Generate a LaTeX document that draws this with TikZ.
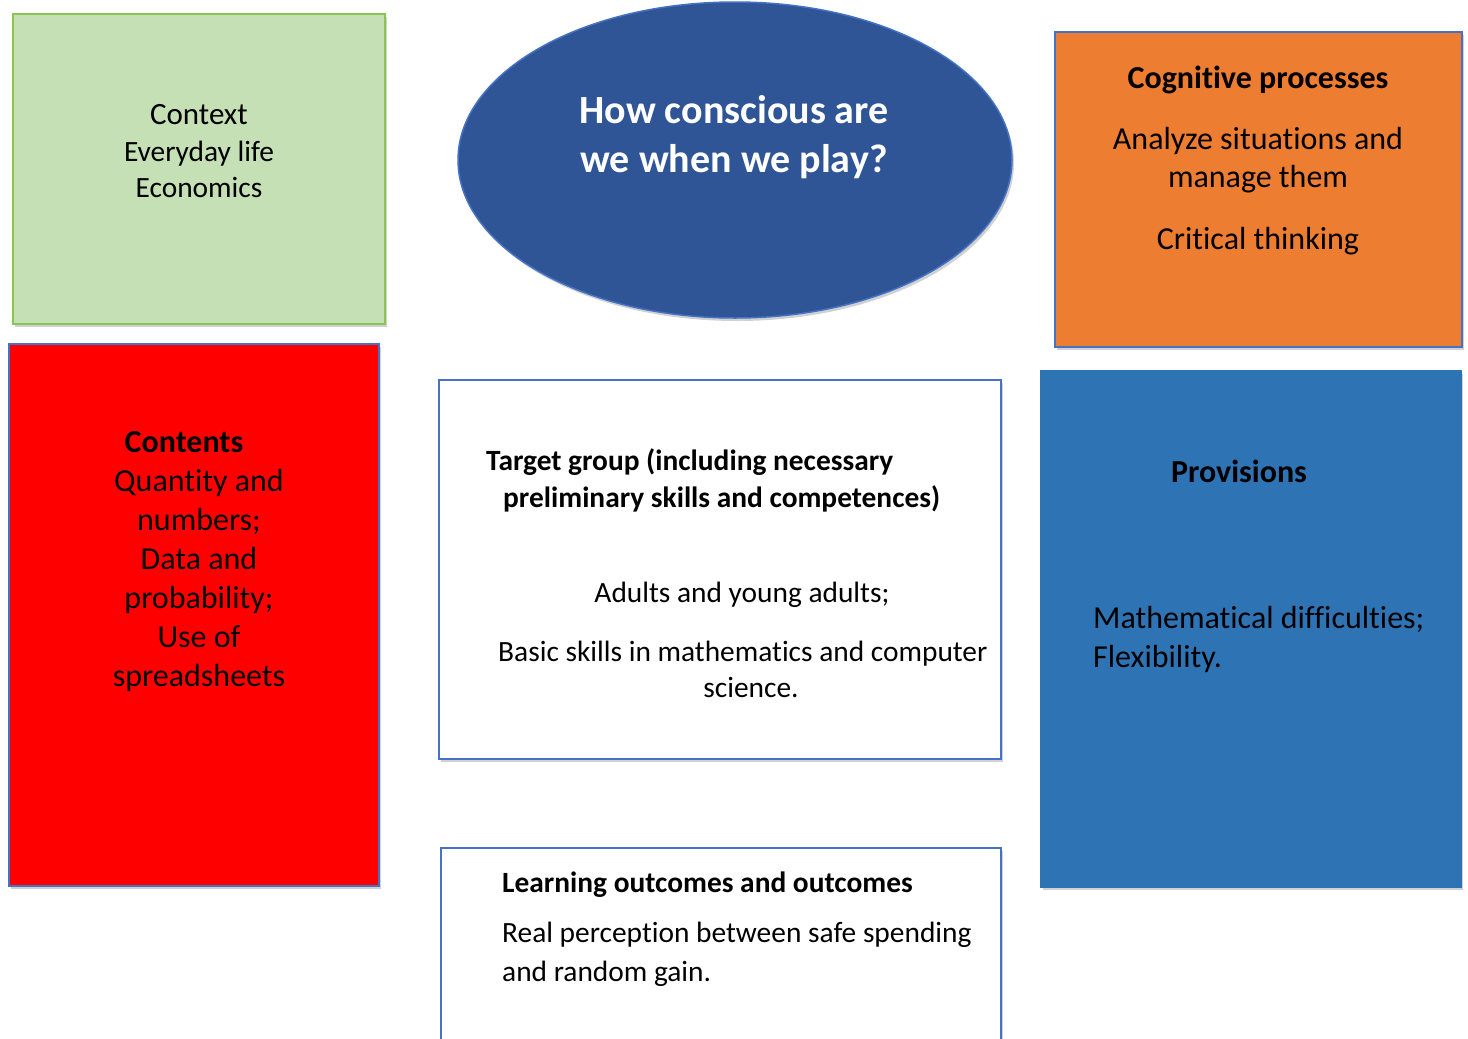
\documentclass[tikz,border=0pt]{standalone}
\usepackage{fontspec}
\setmainfont{Carlito}[Ligatures=NoCommon]
\usetikzlibrary{shapes.geometric,shadows}
\definecolor{ctxfill}{RGB}{197,224,180}
\definecolor{ctxline}{RGB}{140,196,82}
\definecolor{ellfill}{RGB}{47,85,151}
\definecolor{accline}{RGB}{68,114,196}
\definecolor{orangefill}{RGB}{237,125,49}
\definecolor{redfill}{RGB}{255,0,0}
\definecolor{provfill}{RGB}{46,116,181}
\begin{document}
\begin{tikzpicture}[x=1pt,y=-1pt,
  box/.style={draw=accline, line width=1.5pt, inner sep=0pt, outer sep=0pt, anchor=north west,
    drop shadow={shadow xshift=2pt, shadow yshift=-3pt, opacity=0.18, fill=black}},
  t29/.style={inner sep=0pt, font=\fontsize{29.4}{35}\selectfont},
  b29/.style={inner sep=0pt, font=\fontsize{29.4}{35}\selectfont\bfseries},
  t32/.style={inner sep=0pt, font=\fontsize{32}{38}\selectfont},
  b32/.style={inner sep=0pt, font=\fontsize{32}{38}\selectfont\bfseries},
]
\clip (0,0) rectangle (1468,1039);
\fill[white] (0,0) rectangle (1468,1039);

% boxes
\node[box, draw=ctxline, fill=ctxfill, minimum width=372pt, minimum height=310pt] (ctx) at (13,14) {};
\node[box, fill=orangefill, minimum width=407pt, minimum height=315pt] (cog) at (1055,32) {};
\node[box, fill=redfill, line width=1.2pt, minimum width=370pt, minimum height=542pt] (cont) at (9,344) {};
\node[box, fill=white, minimum width=562pt, minimum height=379pt] (target) at (439,380) {};
\node[box, draw=provfill, fill=provfill, minimum width=420pt, minimum height=516pt] (prov) at (1041,371) {};
\node[box, fill=white, minimum width=560pt, minimum height=260pt] (learn) at (441,848) {};
\node[ellipse, draw=accline, line width=1.5pt, fill=ellfill, inner sep=0pt,
  minimum width=554pt, minimum height=316pt,
  drop shadow={shadow xshift=2pt, shadow yshift=-3pt, opacity=0.18, fill=black}] (q) at (735,160) {};

% ellipse text
\node[inner sep=0pt, font=\fontsize{40}{48}\selectfont\bfseries, text=white, anchor=mid] (q1) at (734,121) {How conscious are};
\node[inner sep=0pt, font=\fontsize{40}{48}\selectfont\bfseries, text=white, anchor=mid] (q2) at (734,170) {we when we play?};

% context
\node[inner sep=0pt, font=\fontsize{31}{37}\selectfont, anchor=mid] (c1) at (199,122) {Context};
\node[t29, anchor=mid] (c2) at (199,159) {Everyday life};
\node[t29, anchor=mid] (c3) at (199,195) {Economics};

% cognitive
\node[b32, anchor=mid] (g1) at (1258,86) {Cognitive processes};
\node[t32, anchor=mid] (g2) at (1258,147) {Analyze situations and};
\node[t32, anchor=mid] (g3) at (1258,185) {manage them};
\node[t32, anchor=mid] (g4) at (1258,247) {Critical thinking};

% contents
\node[b32, anchor=mid] (k1) at (184,450) {Contents};
\node[t32, anchor=mid] (k2) at (199,489) {Quantity and};
\node[t32, anchor=mid] (k3) at (199,528) {numbers;};
\node[t32, anchor=mid] (k4) at (199,567) {Data and};
\node[t32, anchor=mid] (k5) at (199,606) {probability;};
\node[t32, anchor=mid] (k6) at (199,645) {Use of};
\node[t32, anchor=mid] (k7) at (199,684) {spreadsheets};

% target group
\node[b29, anchor=mid west] (tg1) at (486,468) {Target group (including necessary};
\node[b29, anchor=mid west] (tg2) at (503,505) {preliminary skills and competences)};
\node[t29, anchor=mid] (tg3) at (742,600) {Adults and young adults;};
\node[t29, anchor=mid west] (tg4) at (498,659) {Basic skills in mathematics and computer};
\node[t29, anchor=mid] (tg5) at (751,695) {science.};

% provisions
\node[b32, anchor=mid] (p1) at (1239,480) {Provisions};
\node[t32, anchor=mid west] (p2) at (1093,626) {Mathematical difficulties;};
\node[t32, anchor=mid west] (p3) at (1093,665) {Flexibility.};

% learning outcomes
\node[b29, anchor=mid west] (l1) at (502,890) {Learning outcomes and outcomes};
\node[t29, anchor=mid west] (l2) at (502,940) {Real perception between safe spending};
\node[t29, anchor=mid west] (l3) at (502,979) {and random gain.};
\end{tikzpicture}
\end{document}
